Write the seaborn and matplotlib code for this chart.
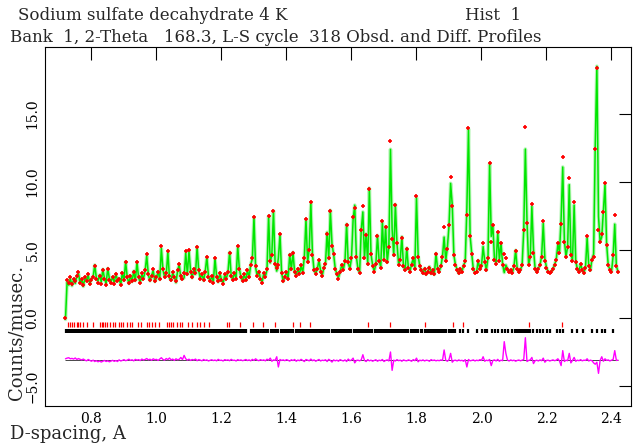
import numpy as np
import matplotlib
matplotlib.use('Agg')
import matplotlib.pyplot as plt
import seaborn as sns

# Observed profile, sampled every 0.005 A from 0.720 A (one row = 0.05 A)
d_start = 0.720
d_step = 0.005
obs_counts = [
    0.0, 2.8, 2.6, 3.0, 2.5, 2.9, 2.7, 3.1, 3.4, 2.6,
    2.9, 2.4, 3.0, 2.7, 3.2, 2.5, 2.8, 3.0, 3.8, 2.9,
    2.6, 3.1, 2.5, 3.5, 2.9, 2.4, 3.6, 2.8, 2.6, 3.0,
    2.5, 3.2, 2.7, 2.9, 2.4, 3.3, 2.8, 4.1, 3.0, 2.6,
    3.1, 2.7, 3.4, 2.8, 4.1, 3.0, 2.6, 3.3, 2.9, 3.5,
    4.7, 3.2, 2.8, 3.1, 3.6, 2.7, 3.0, 3.4, 2.9, 5.3,
    3.6, 3.0, 3.3, 4.9, 3.1, 2.8, 3.4, 3.0, 2.7, 3.5,
    4.0, 3.1, 2.9, 3.3, 4.9, 3.2, 5.0, 3.4, 3.0, 3.6,
    3.3, 5.2, 3.5, 2.9, 3.2, 2.8, 3.4, 4.5, 3.0, 2.7,
    3.1, 2.6, 4.4, 3.0, 2.7, 3.3, 2.8, 2.5, 3.2, 2.9,
    3.4, 4.8, 3.1, 2.8, 3.3, 2.9, 5.3, 3.6, 3.0, 2.7,
    3.2, 2.8, 3.5, 3.0, 3.9, 4.4, 7.4, 3.8, 3.1, 3.4,
    2.9, 2.6, 3.3, 3.0, 3.6, 7.5, 4.2, 4.6, 7.9, 4.0,
    3.7, 3.9, 6.2, 3.3, 2.7, 3.0, 3.4, 2.9, 4.6, 3.6,
    4.8, 3.4, 3.1, 3.6, 3.2, 3.9, 3.3, 4.4, 7.3, 4.1,
    5.0, 8.55, 4.6, 3.5, 3.2, 3.6, 4.3, 3.4, 3.1, 3.7,
    4.0, 6.2, 4.4, 7.9, 5.3, 4.7, 3.6, 3.2, 2.9, 3.4,
    3.9, 3.5, 4.2, 6.8, 4.1, 3.6, 4.4, 7.4, 8.1, 4.5,
    3.6, 3.3, 6.5, 8.2, 4.4, 6.1, 4.0, 9.5, 4.7, 3.8,
    3.4, 4.0, 6.0, 4.2, 3.7, 7.1, 4.3, 6.7, 4.1, 5.2,
    13.0, 5.8, 4.6, 8.3, 5.5, 3.9, 4.3, 5.9, 3.8, 3.5,
    5.1, 3.7, 3.4, 3.9, 4.4, 3.6, 9.0, 4.5, 3.8, 3.5,
    3.3, 3.6, 3.2, 3.4, 3.7, 3.3, 3.5, 3.2, 4.7, 3.6,
    3.4, 3.8, 4.5, 6.7, 4.2, 5.1, 6.8, 10.4, 8.2, 4.6,
    3.9, 3.5, 3.3, 3.6, 3.4, 3.8, 4.2, 7.6, 13.95, 6.0,
    4.7, 3.6, 3.3, 3.4, 4.2, 3.6, 3.8, 5.5, 4.1, 3.5,
    4.4, 11.4, 5.6, 6.8, 4.3, 4.0, 6.35, 4.2, 5.5, 3.9,
    4.7, 4.4, 3.6, 3.4, 3.5, 3.3, 3.8, 4.9, 3.6, 3.4,
    3.5, 3.9, 6.5, 14.07, 7.0, 3.9, 4.5, 8.4, 4.8, 3.6,
    3.4, 3.6, 3.9, 4.5, 7.1, 4.2, 3.7, 3.4, 3.3, 3.4,
    3.6, 3.9, 4.3, 5.5, 4.8, 6.9, 11.8, 5.6, 4.5, 5.2,
    10.3, 4.6, 4.2, 8.5, 4.1, 3.6, 3.4, 4.0, 3.5, 3.3,
    3.7, 6.0, 3.8, 3.5, 4.3, 4.5, 12.4, 18.36, 6.5, 5.6,
    6.2, 7.8, 9.9, 5.4, 3.9, 3.5, 3.4, 4.6, 7.6, 3.8,
    3.4,
]

# Difference curve (obs - calc, shifted down by diff_zero), same sampling
diff_zero = -3.1
diff_counts = [
    -3.00, -2.95, -2.92, -3.00, -2.97, -3.02, -2.94, -3.05, -2.98, -3.04,
    -3.08, -3.02, -3.10, -3.15, -3.05, -3.12, -3.18, -3.10, -3.20, -3.14,
    -3.22, -3.16, -3.24, -3.18, -3.12, -3.20, -3.15, -3.22, -3.17, -3.11,
    -3.19, -3.13, -3.20, -3.08, -3.16, -3.12, -3.06, -3.14, -3.10, -3.03,
    -3.12, -3.07, -3.15, -3.04, -3.10, -3.06, -3.13, -3.02, -3.09, -3.05,
    -2.98, -3.08, -3.03, -3.11, -3.00, -3.07, -3.04, -3.12, -3.02, -2.92,
    -3.05, -3.10, -2.98, -3.06, -2.94, -3.08, -3.02, -3.12, -3.00, -3.07,
    -3.04, -2.90, -3.06, -2.75, -3.00, -3.10, -3.03, -3.12, -3.05, -3.09,
    -3.02, -3.14, -3.06, -3.10, -3.15, -3.05, -3.12, -3.08, -3.16, -3.11,
    -3.07, -3.13, -3.09, -3.15, -3.04, -3.12, -3.10, -3.16, -3.06, -3.11,
    -3.08, -3.14, -3.04, -3.12, -3.10, -3.16, -3.06, -3.12, -3.08, -3.14,
    -3.10, -3.05, -3.13, -3.08, -3.15, -3.04, -3.12, -3.00, -3.10, -3.14,
    -3.06, -3.12, -3.08, -3.15, -3.03, -3.10, -2.95, -3.18, -3.08, -3.12,
    -2.85, -3.60, -3.05, -3.12, -3.08, -3.14, -3.06, -3.11, -3.17, -3.07,
    -3.13, -3.05, -3.18, -3.09, -3.14, -3.04, -3.12, -3.20, -3.05, -3.10,
    -3.15, -3.02, -3.14, -3.08, -3.18, -3.11, -3.05, -3.16, -3.10, -3.13,
    -3.07, -3.20, -3.04, -3.12, -3.24, -3.08, -3.15, -3.10, -3.18, -3.06,
    -3.12, -3.16, -3.08, -3.20, -3.02, -3.14, -3.09, -2.95, -3.30, -3.12,
    -3.10, -3.15, -3.08, -2.70, -3.12, -3.20, -3.06, -3.15, -3.10, -3.18,
    -3.12, -3.07, -3.18, -3.10, -3.14, -3.05, -3.20, -3.12, -3.08, -3.16,
    -2.50, -3.85, -3.10, -3.16, -3.06, -3.14, -3.10, -3.18, -3.08, -3.13,
    -3.15, -3.08, -3.12, -3.18, -3.06, -3.14, -2.95, -3.22, -3.10, -3.14,
    -3.08, -3.16, -3.10, -3.12, -3.18, -3.06, -3.13, -3.09, -3.15, -3.11,
    -3.14, -3.08, -3.12, -2.35, -3.10, -3.18, -3.06, -2.60, -3.25, -3.12,
    -3.10, -3.16, -3.08, -3.14, -3.11, -3.18, -3.06, -3.60, -3.05, -3.15,
    -3.12, -3.08, -3.16, -3.10, -3.14, -3.06, -3.12, -2.85, -3.18, -3.10,
    -3.14, -3.05, -3.50, -3.12, -3.08, -3.16, -3.04, -3.18, -3.10, -3.14,
    -1.74, -2.60, -3.10, -3.16, -3.08, -3.14, -3.10, -3.18, -3.12, -3.09,
    -3.15, -3.10, -3.05, -1.45, -3.20, -3.12, -3.08, -2.90, -3.35, -3.14,
    -3.10, -3.16, -3.08, -3.14, -2.95, -3.25, -3.12, -3.10, -3.16, -3.12,
    -3.08, -3.14, -3.10, -3.00, -3.16, -3.50, -2.40, -3.20, -3.10, -3.14,
    -2.60, -3.30, -3.12, -2.90, -3.18, -3.10, -3.14, -3.06, -3.15, -3.10,
    -3.12, -3.00, -3.16, -3.10, -3.14, -3.30, -3.40, -3.25, -4.07, -3.12,
    -2.85, -3.18, -3.00, -3.12, -3.08, -3.16, -3.10, -3.05, -2.40, -3.12,
    -3.10,
]

# reflection positions, second phase (red row)
red_refl = [
    0.729, 0.734, 0.741, 0.746, 0.754, 0.759, 0.765, 0.773, 0.787, 0.806,
    0.826, 0.831, 0.836, 0.842, 0.849, 0.857, 0.865, 0.872, 0.885, 0.890,
    0.898, 0.910, 0.918, 0.924, 0.944, 0.951, 0.970, 0.978, 0.985, 0.995,
    1.009, 1.031, 1.038, 1.044, 1.050, 1.062, 1.072, 1.078, 1.098, 1.108,
    1.124, 1.134, 1.146, 1.162, 1.216, 1.223, 1.257, 1.298, 1.329, 1.365,
    1.419, 1.442, 1.473, 1.652, 1.718, 1.826, 1.913, 1.944, 2.147, 2.249,
]

# reflection positions, main phase (black row)
black_refl = [
    0.722, 0.726, 0.731, 0.735, 0.740, 0.744, 0.749, 0.753, 0.758, 0.762, 0.767, 0.771,
    0.776, 0.780, 0.785, 0.789, 0.794, 0.798, 0.803, 0.807, 0.812, 0.816, 0.821, 0.825,
    0.830, 0.834, 0.839, 0.843, 0.848, 0.852, 0.857, 0.861, 0.866, 0.870, 0.875, 0.879,
    0.884, 0.888, 0.893, 0.897, 0.902, 0.906, 0.911, 0.915, 0.920, 0.924, 0.929, 0.933,
    0.938, 0.942, 0.947, 0.951, 0.956, 0.960, 0.965, 0.969, 0.974, 0.978, 0.983, 0.987,
    0.992, 0.996, 1.001, 1.005, 1.010, 1.014, 1.019, 1.023, 1.028, 1.032, 1.037, 1.041,
    1.046, 1.050, 1.055, 1.059, 1.064, 1.068, 1.073, 1.077, 1.082, 1.086, 1.091, 1.095,
    1.100, 1.104, 1.109, 1.113, 1.118, 1.122, 1.127, 1.131, 1.136, 1.140, 1.145, 1.149,
    1.154, 1.158, 1.163, 1.167, 1.172, 1.176, 1.181, 1.185, 1.190, 1.194, 1.199, 1.203,
    1.208, 1.212, 1.217, 1.221, 1.226, 1.230, 1.235, 1.239, 1.244, 1.248, 1.253, 1.257,
    1.262, 1.266, 1.271, 1.275,
    1.292, 1.297, 1.302, 1.306, 1.311, 1.315, 1.321, 1.326, 1.330, 1.335, 1.339, 1.344,
    1.352, 1.357, 1.361, 1.366, 1.370, 1.375, 1.384, 1.389, 1.393, 1.398, 1.402, 1.407,
    1.411, 1.416, 1.420, 1.428, 1.433, 1.437, 1.442, 1.446, 1.451, 1.455, 1.460, 1.464,
    1.469, 1.473, 1.478, 1.482, 1.487, 1.491, 1.496, 1.500, 1.505, 1.509, 1.514, 1.518,
    1.523, 1.527, 1.532, 1.541, 1.545, 1.550, 1.554, 1.559, 1.563, 1.568, 1.572, 1.577,
    1.581, 1.586, 1.590, 1.595, 1.599, 1.608, 1.613, 1.617, 1.622, 1.626, 1.631, 1.635,
    1.640, 1.644, 1.649, 1.653, 1.658, 1.662, 1.671, 1.676, 1.680, 1.685, 1.689, 1.694,
    1.698, 1.703, 1.707, 1.712, 1.716, 1.721, 1.725, 1.730, 1.734, 1.739, 1.743, 1.748,
    1.752, 1.757, 1.761, 1.766, 1.770, 1.775,
    1.783, 1.789, 1.795, 1.800, 1.806, 1.813, 1.818, 1.826, 1.832, 1.838, 1.845, 1.851,
    1.856, 1.862, 1.868, 1.874, 1.880, 1.886, 1.892, 1.899, 1.905, 1.911, 1.917,
    1.934, 1.944, 1.959, 1.985, 2.001, 2.012, 2.016, 2.031, 2.042, 2.052, 2.062, 2.072,
    2.082, 2.093, 2.103, 2.108, 2.113, 2.118, 2.124, 2.129, 2.134, 2.139, 2.144, 2.149,
    2.159, 2.170, 2.180, 2.190, 2.201, 2.211, 2.231, 2.242, 2.252, 2.278, 2.293, 2.313,
    2.339, 2.354, 2.370, 2.380, 2.406,
]

x_ticks = [0.8, 1.0, 1.2, 1.4, 1.6, 1.8, 2.0, 2.2, 2.4]
y_ticks = [-5.0, 0.0, 5.0, 10.0, 15.0]

d_spacing = d_start + d_step * np.arange(len(obs_counts))
obs = np.array(obs_counts)
diff = np.array(diff_counts)
calc = obs - (diff - diff_zero)

sns.set_theme(style='white')
plt.rcParams['font.family'] = ['DejaVu Serif']

fig = plt.figure(figsize=(6.33, 4.46), dpi=100)
ax = fig.add_axes([45/633, 40/446, 586/633, 358.7/446])

# calculated curve, observed points drawn over it
sns.lineplot(x=d_spacing, y=calc, color='#b8f5b8', lw=2.6, ax=ax, zorder=2)
sns.lineplot(x=d_spacing, y=calc, color='#00e600', lw=1.1, ax=ax, zorder=3)
sns.scatterplot(x=d_spacing, y=obs, marker='+', color='red', s=12,
                linewidth=1.2, ax=ax, zorder=4, legend=False)

# difference curve with its zero level
ax.hlines(diff_zero - 0.02, d_spacing[0], d_spacing[-1], color='black', lw=0.5, zorder=2)
sns.lineplot(x=d_spacing, y=diff, color='magenta', lw=1.0, ax=ax, zorder=3)

# reflection markers
ax.vlines(red_refl, -0.65, -0.3, color='red', lw=0.9)
ax.vlines(black_refl, -1.1, -0.8, color='black', lw=1.6)

ax.set_xlim(0.657, 2.46)
ax.set_ylim(-6.47, 19.9)
ax.set_xticks(x_ticks)
ax.set_xticklabels([f'{v:.1f}' for v in x_ticks])
ax.set_yticks(y_ticks)
ax.set_yticklabels([f'{v:.1f}'.replace('-', '\u2212') for v in y_ticks],
                   rotation=90, va='center')
ax.tick_params(direction='in', length=9, width=0.8, top=True, right=True,
               labelsize=10, pad=4, colors='black')
for sp in ax.spines.values():
    sp.set_color('black')
    sp.set_linewidth(0.8)
ax.set_xlabel('')
ax.set_ylabel('')

fig.text(18/633, 1 - 16/446, 'Sodium sulfate decahydrate 4 K', fontsize=12, va='center', ha='left')
fig.text(465/633, 1 - 16/446, 'Hist  1', fontsize=12, va='center', ha='left')
fig.text(10/633, 1 - 37/446,
         'Bank  1, 2-Theta   168.3, L-S cycle  318 Obsd. and Diff. Profiles',
         fontsize=12, va='center', ha='left')
fig.text(10/633, 1 - 434/446, 'D-spacing, A', fontsize=13, va='center', ha='left')
fig.text(17/633, 1 - 332/446, 'Counts/musec.', fontsize=13, rotation=90,
         va='center', ha='center')

fig.savefig('out.png', dpi=100, facecolor='white')
